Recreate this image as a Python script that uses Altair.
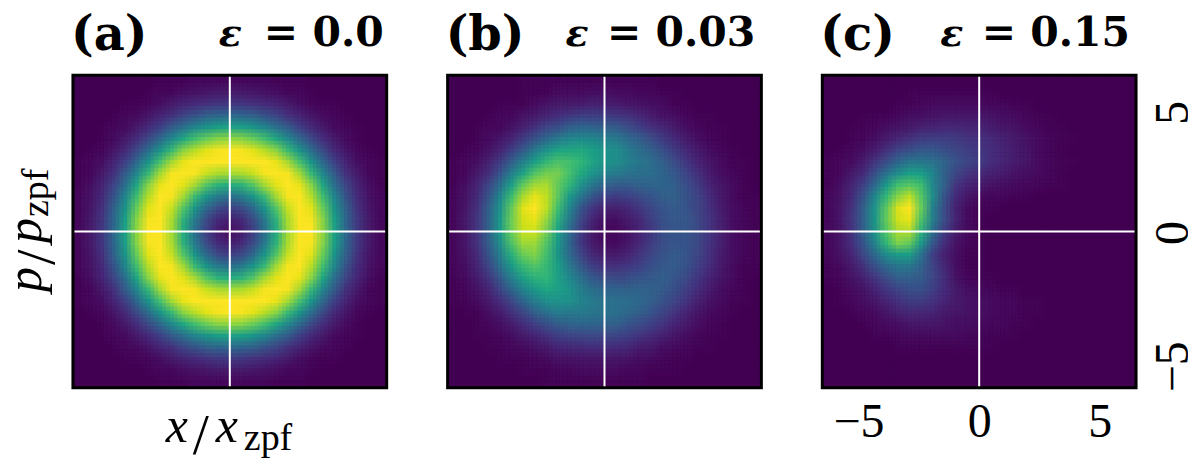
import altair as alt
import pandas as pd

# Panel (a): one quadrant of the ring, rows from the centre outwards (0-100)
quad_a = [
    [3,8,18,36,60,84,98,97,81,56,33,16,7,2],
    [8,12,22,40,63,85,98,96,80,55,32,16,7,2],
    [18,22,33,51,71,89,100,93,75,51,30,14,6,2],
    [36,40,51,66,84,96,99,87,68,45,25,12,5,2],
    [60,63,71,84,93,100,94,80,58,36,20,10,4,1],
    [84,85,89,96,100,96,84,66,46,28,14,7,2,1],
    [98,98,100,99,94,84,69,51,33,19,10,4,2,1],
    [97,96,93,87,80,66,51,35,22,12,6,2,1,0],
    [81,80,75,68,58,46,33,22,13,7,3,1,0,0],
    [56,55,51,45,36,28,19,12,7,3,2,1,0,0],
    [33,32,30,25,20,14,10,6,3,2,1,0,0,0],
    [16,16,14,12,10,7,4,2,1,1,0,0,0,0],
    [7,7,6,5,4,2,2,1,0,0,0,0,0,0],
    [2,2,2,2,1,1,1,0,0,0,0,0,0,0],
]

# Panels (b), (c): rows top to bottom; each row = left 13 cells, centre cell, right cells
rows_b = [
    ([0,0,0,0,0,0,1,1,1,1,1,1,1],1,[1,1,1,1]),
    ([0,0,0,0,0,0,1,1,1,3,3,3,4],4,[3,3,2,2,1,1]),
    ([0,0,0,0,1,1,1,3,5,7,7,8,9],8,[8,6,5,4,3,1,1]),
    ([0,0,0,1,2,2,5,7,10,13,16,18,18],17,[16,14,11,8,5,4,2,1,1]),
    ([0,0,1,2,2,5,9,14,20,24,29,32,31],29,[28,23,19,14,11,7,4,2,1,1]),
    ([0,0,1,3,6,10,17,25,33,40,45,47,46],42,[40,34,29,23,17,12,7,4,2,1]),
    ([0,1,2,5,10,18,28,40,50,57,58,59,55],50,[48,41,36,30,24,17,12,7,4,2,1]),
    ([1,2,4,9,17,29,43,55,65,70,68,64,57],51,[48,43,39,35,29,23,16,10,6,3,1,1]),
    ([1,2,7,13,26,42,57,71,77,77,69,59,50],44,[40,37,36,35,32,27,20,14,8,4,2,1]),
    ([1,4,10,20,35,55,74,84,85,74,64,49,39],31,[28,28,30,31,32,29,24,17,10,6,3,1]),
    ([2,5,12,25,45,67,85,94,88,73,53,38,26],19,[17,19,22,26,29,30,25,20,13,7,3,1,1]),
    ([2,6,14,29,50,74,93,100,88,67,45,26,15],9,[9,11,16,21,26,28,26,21,14,8,4,2,1]),
    ([2,7,15,30,52,76,91,94,82,62,40,21,10],4,[4,7,11,18,24,27,27,22,15,9,4,2,1]),
    ([2,6,15,30,52,75,89,90,77,55,33,17,7],2,[2,5,10,16,23,26,26,22,15,9,4,2,1]),
    ([2,6,14,28,48,70,83,83,71,52,32,16,7],3,[3,6,11,17,23,26,26,22,15,9,4,2,1]),
    ([2,5,12,25,42,62,75,79,68,51,34,20,11],7,[7,10,15,20,25,28,26,21,14,8,4,2,1]),
    ([2,4,10,20,36,52,66,71,66,55,40,27,18],14,[14,16,19,24,27,28,25,19,13,7,3,1,1]),
    ([1,3,8,15,27,42,56,63,64,56,46,36,27],23,[22,23,26,27,29,26,22,16,10,6,3,1]),
    ([1,2,5,10,20,32,44,53,58,56,50,41,35],32,[31,30,31,30,28,24,18,13,8,4,2,1]),
    ([1,1,3,7,13,21,32,41,48,50,49,44,40],37,[36,35,33,29,25,20,15,9,5,3,1,1]),
    ([0,1,1,4,8,14,21,30,36,41,40,40,38],37,[36,33,29,26,20,15,10,6,3,2,1]),
    ([0,0,1,2,4,8,13,18,24,28,31,32,32],31,[30,26,23,19,15,10,7,4,2,1]),
    ([0,0,1,1,2,4,7,10,14,18,20,21,22],21,[20,18,15,12,9,6,4,2,1,1]),
    ([0,0,0,1,1,2,3,5,7,10,11,12,13],13,[12,11,8,7,4,3,2,1,1]),
    ([0,0,0,0,1,1,1,2,3,5,5,6,6],6,[6,5,4,3,2,1,1]),
    ([0,0,0,0,0,0,1,1,1,2,2,3,3],3,[3,2,2,1,1,1]),
    ([0,0,0,0,0,0,0,0,1,1,1,1,1],1,[1,1,1]),
]
rows_c = [
    ([0,0,0,0,0,0,0,0,0,0,0,0,0],0,[]),
    ([0,0,0,0,0,0,0,1,1,1,1,1,1],1,[1]),
    ([0,0,0,0,0,0,1,1,2,3,3,3,3],3,[2,2,1,1]),
    ([0,0,0,1,1,1,2,4,4,5,6,6,6],6,[5,4,3,2,1,1]),
    ([0,0,1,1,2,4,5,7,9,10,11,11,10],10,[8,6,5,3,2,1,1]),
    ([0,0,1,2,4,7,11,14,17,18,18,17,15],14,[12,9,7,5,3,2,1,1]),
    ([0,1,2,4,8,14,20,24,27,27,24,21,18],16,[13,10,8,6,3,2,1]),
    ([1,2,3,8,15,23,32,39,39,37,31,25,20],17,[13,10,8,6,3,2,1,1]),
    ([1,2,7,12,24,37,48,55,54,45,30,21,15],12,[9,8,5,4,3,2,1]),
    ([1,4,10,19,33,52,68,72,67,46,30,15,10],7,[5,4,3,2,2,1,1]),
    ([2,5,12,25,45,65,80,88,72,48,25,12,6],3,[2,2,1,1]),
    ([2,6,14,29,50,73,92,100,75,42,23,9,3],1,[1]),
    ([2,6,15,29,51,74,90,94,70,42,23,10,3],1,[]),
    ([2,6,14,29,49,71,85,86,63,35,17,8,3],1,[]),
    ([2,6,13,26,44,64,78,74,52,27,13,5,2],1,[]),
    ([2,5,10,21,33,47,54,54,37,19,9,4,1],1,[]),
    ([1,3,7,14,24,33,39,39,31,20,11,4,1],1,[]),
    ([1,2,5,9,15,23,29,29,28,21,13,5,2],1,[1]),
    ([0,1,3,5,10,16,20,24,24,19,12,7,4],3,[2,1,1]),
    ([0,1,2,4,6,10,14,17,17,14,10,7,5],4,[3,2,2,1,1]),
    ([0,0,1,2,3,6,9,11,11,10,7,6,5],4,[3,2,2,1,1]),
    ([0,0,0,1,2,3,4,6,6,6,5,4,4],3,[2,2,1,1]),
    ([0,0,0,0,1,1,2,3,3,3,3,3,2],2,[1,1,1]),
    ([0,0,0,0,0,0,1,1,1,1,1,1,1],1,[1]),
    ([0,0,0,0,0,0,0,0,0,0,0,0,0],0,[]),
    ([0,0,0,0,0,0,0,0,0,0,0,0,0],0,[]),
    ([0,0,0,0,0,0,0,0,0,0,0,0,0],0,[]),
]

panel_tags = ["(a)", "(b)", "(c)"]
panel_eps = ["= 0.0", "= 0.03", "= 0.15"]
ticks = [-5, 0, 5]
LIM = 6.5
N = 27
PW, PH = 314, 313
SERIF = "Liberation Serif"
BOLD = "DejaVu Serif"
D = 2 * LIM / N
# the same cells are overdrawn at small sub-cell offsets with falling opacity, which softens the cell edges
OFFSETS = [(0, 0), (-1, -1), (1, -1), (-1, 1), (1, 1), (0, -1), (0, 1), (-1, 0), (1, 0)]


def expand_quad(q):
    full_rows = [r[:0:-1] + r for r in q]
    return full_rows[:0:-1] + full_rows


def expand_rows(rows):
    return [l + [c] + r + [0] * (13 - len(r)) for l, c, r in rows]


def table(grid, ox=0.0, oy=0.0):
    recs = []
    for j, row in enumerate(grid):
        for i, v in enumerate(row):
            recs.append({
                "x0": round(-LIM + i * D + ox, 3), "x1": round(-LIM + (i + 1) * D + ox, 3),
                "y1": round(LIM - j * D + oy, 3), "y0": round(LIM - (j + 1) * D + oy, 3), "v": v,
            })
    return pd.DataFrame(recs)


def label(txt, x, y, size, font=SERIF, style="normal", weight="normal", angle=0, align="left"):
    return alt.Chart(pd.DataFrame({"t": [txt]})).mark_text(
        font=font, fontSize=size, fontStyle=style, fontWeight=weight,
        angle=angle, align=align, baseline="alphabetic", color="black",
    ).encode(text="t:N", x=alt.value(x), y=alt.value(y))


def panel(grid, tag, eps, eps_x, num_x, top, show_axes=False, extra=()):
    sx = alt.Scale(domain=[-LIM, LIM], nice=False, zero=False)
    sy = alt.Scale(domain=[-LIM, LIM], nice=False, zero=False)
    cs = alt.Scale(scheme="viridis", domain=[0, top], clamp=True)
    if show_axes:
        ax = alt.Axis(values=ticks, title=None, grid=False, ticks=False, domain=False,
                      labelFont=SERIF, labelFontSize=48, labelColor="black",
                      labelPadding=11, format="d")
        ay = alt.Axis(values=ticks, title=None, grid=False, ticks=False, domain=False, orient="right",
                      labelFont=SERIF, labelFontSize=48, labelColor="black", labelAngle=270,
                      labelAlign="right", labelBaseline="middle", labelPadding=37, labelOffset=-11,
                      format="d")
    else:
        ax = None
        ay = None
    heat_layers = []
    for k, (ox, oy) in enumerate(OFFSETS):
        first = k == 0
        enc = dict(
            x=alt.X("x0:Q", scale=sx, axis=ax),
            x2="x1:Q",
            y=alt.Y("y0:Q", scale=sy, axis=ay),
            y2="y1:Q",
            color=alt.Color("v:Q", scale=cs, legend=None),
        )
        c = alt.Chart(table(grid, ox * D / 3, oy * D / 3))
        if first:
            c = c.mark_rect(clip=True, strokeWidth=0.6)
            enc["stroke"] = alt.Stroke("v:Q", scale=cs, legend=None)
        else:
            c = c.mark_rect(clip=True, opacity=1.0 / (k + 1))
        heat_layers.append(c.encode(**enc))
    zero = pd.DataFrame({"z": [0]})
    vline = alt.Chart(zero).mark_rule(color="white", strokeWidth=2).encode(x=alt.X("z:Q", scale=sx, axis=ax))
    hline = alt.Chart(zero).mark_rule(color="white", strokeWidth=2).encode(y=alt.Y("z:Q", scale=sy, axis=ay))
    frame = alt.Chart(pd.DataFrame({"a": [-LIM], "b": [LIM]})).mark_rect(
        filled=False, stroke="black", strokeWidth=3, clip=False
    ).encode(x=alt.X("a:Q", scale=sx, axis=ax), x2="b:Q", y=alt.Y("a:Q", scale=sy, axis=ay), y2="b:Q")
    texts = [
        label(tag, -2, -25, 48, font=BOLD, weight="bold"),
        label("\u03b5", eps_x, -29, 38, font=BOLD, style="italic", weight="bold"),
        label(eps, num_x, -29, 41, font=BOLD, weight="bold", align="right"),
    ]
    return alt.layer(*heat_layers, vline, hline, frame, *texts, *extra).properties(width=PW, height=PH)


axis_labels = [
    label("x", 93, 367, 50, style="italic"),
    label("/", 120, 379, 58),
    label("x", 143, 367, 50, style="italic"),
    label("zpf", 171, 375, 38),
    label("p", -32, 217, 50, style="italic", angle=270),
    label("/", -19, 190, 56, angle=270),
    label("p", -32, 168, 50, style="italic", angle=270),
    label("zpf", -25, 142, 38, angle=270),
]

grid_a = expand_quad(quad_a)
grid_b = expand_rows(rows_b)
grid_c = expand_rows(rows_c)

chart = alt.hconcat(
    panel(grid_a, panel_tags[0], panel_eps[0], 146, 311, 97, extra=axis_labels),
    panel(grid_b, panel_tags[1], panel_eps[1], 118, 308, 85),
    panel(grid_c, panel_tags[2], panel_eps[2], 118, 308, 85, show_axes=True),
    spacing=61, bounds="flush",
).properties(padding={"left": -7, "top": 4, "right": -9, "bottom": 0}).configure_view(stroke=None)

chart.save("out.html", embed_options={"renderer": "svg", "actions": False})
